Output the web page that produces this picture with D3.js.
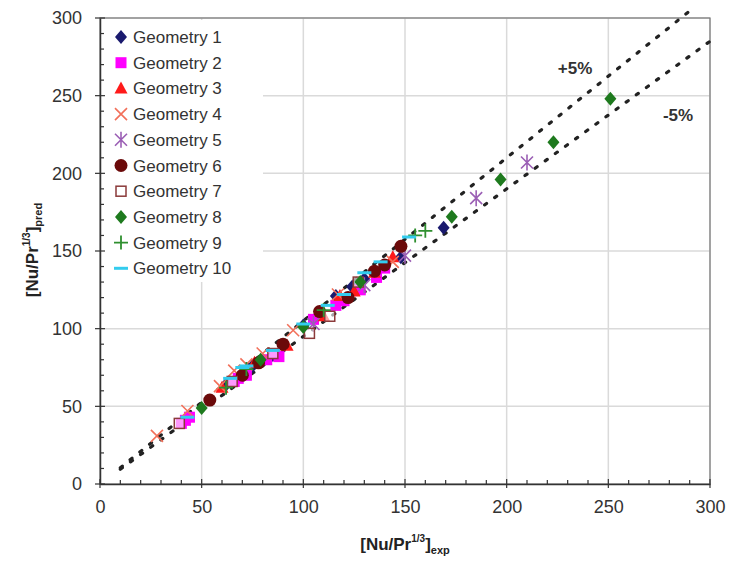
<!DOCTYPE html>
<html>
<head>
<meta charset="utf-8">
<script src="https://cdn.jsdelivr.net/npm/d3@7"></script>
<style>
  body { margin: 0; background: #fff; }
  svg { font-family: "Liberation Sans", Arial, sans-serif; }
</style>
</head>
<body>
<svg id="chart" width="734" height="566"></svg>
<script>
// data: [exp, pred]
const geometryNames = ["Geometry 1", "Geometry 2", "Geometry 3", "Geometry 4", "Geometry 5",
  "Geometry 6", "Geometry 7", "Geometry 8", "Geometry 9", "Geometry 10"];

const geo1 = [[62, 64], [75, 76], [85, 83], [100, 102], [116, 121], [124, 127], [130, 132], [148, 146], [169, 165]];
const geo2 = [[40, 39], [42, 41], [44, 43], [66, 66], [68, 68], [72, 70], [82, 80], [86, 84], [88, 82], [105, 106], [116, 115], [120, 118], [128, 125], [136, 133], [140, 139]];
const geo3 = [[60, 62], [76, 78], [92, 89], [110, 108], [118, 121], [125, 124], [135, 136], [144, 146]];
const geo4 = [[28, 31], [43, 47], [59, 63], [66, 73], [72, 77], [80, 84], [95, 99], [117, 122], [144, 143]];
const geo5 = [[105, 103], [130, 128], [150, 147], [185, 184], [210, 207]];
const geo6 = [[54, 54], [70, 70], [78, 78], [90, 90], [108, 111], [122, 120], [135, 137], [140, 141], [148, 153]];
const geo7 = [[39, 39], [65, 66], [85, 84], [103, 97], [113, 108], [127, 130]];
const geo8 = [[50, 49], [79, 80], [100, 101], [128, 130], [173, 172], [197, 196], [223, 220], [251, 248]];
const geo9 = [[62, 62], [72, 74], [110, 112], [155, 160], [160, 163]];
const geo10 = [[43, 43], [64, 68], [70, 75], [72, 76], [85, 86], [100, 103], [112, 115], [120, 122], [130, 136], [138, 143], [152, 159]];

const series = [geo1, geo2, geo3, geo4, geo5, geo6, geo7, geo8, geo9, geo10];
const colors = ["#1a1a6e", "#ff00ff", "#ff1a1a", "#f2705a", "#9b5fb5",
  "#6b0a0a", "#8b3a3a", "#1e7a1e", "#2f8f2f", "#33ccee"];

const xTicks = [0, 50, 100, 150, 200, 250, 300];
const yTicks = [0, 50, 100, 150, 200, 250, 300];

const svg = d3.select("#chart");
const pLeft = 100, pRight = 710, pTop = 18, pBottom = 484;

const x = d3.scaleLinear().domain([0, 300]).range([pLeft, pRight]);
const y = d3.scaleLinear().domain([0, 300]).range([pBottom, pTop]);

// gridlines
svg.append("g")
  .selectAll("line")
  .data(xTicks.slice(1))
  .join("line")
    .attr("x1", d => x(d)).attr("x2", d => x(d))
    .attr("y1", pTop).attr("y2", pBottom)
    .attr("stroke", "#dadada").attr("stroke-width", 1.5);
svg.append("g")
  .selectAll("line")
  .data(yTicks.slice(1))
  .join("line")
    .attr("x1", pLeft).attr("x2", pRight)
    .attr("y1", d => y(d)).attr("y2", d => y(d))
    .attr("stroke", "#dadada").attr("stroke-width", 1.5);

// legend background covers the grid
svg.append("rect")
  .attr("x", pLeft + 1).attr("y", pTop + 2)
  .attr("width", 162).attr("height", 262)
  .attr("fill", "#fff");

// frame
svg.append("rect")
  .attr("x", pLeft).attr("y", pTop)
  .attr("width", pRight - pLeft).attr("height", pBottom - pTop)
  .attr("fill", "none").attr("stroke", "#777").attr("stroke-width", 1.2);

// axes
const xAxis = svg.append("g").attr("transform", `translate(0,${pBottom})`);
xAxis.call(d3.axisBottom(x).tickValues(xTicks).tickSize(0).tickPadding(16))
  .call(g => g.select(".domain").attr("stroke", "#333").attr("stroke-width", 1.5))
  .call(g => g.selectAll("text").attr("font-size", 18).attr("fill", "#333"));
xAxis.append("g").selectAll("line")
  .data(d3.range(0, 301, 10))
  .join("line")
    .attr("x1", d => x(d)).attr("x2", d => x(d))
    .attr("y1", d => d % 50 === 0 ? 4 : 0)
    .attr("y2", d => d % 50 === 0 ? -5 : -4)
    .attr("stroke", "#333").attr("stroke-width", 1.2);

const yAxis = svg.append("g").attr("transform", `translate(${pLeft},0)`);
yAxis.call(d3.axisLeft(y).tickValues(yTicks).tickSize(0).tickPadding(18))
  .call(g => g.select(".domain").attr("stroke", "#333").attr("stroke-width", 1.5))
  .call(g => g.selectAll("text").attr("font-size", 18).attr("fill", "#333"));
yAxis.append("g").selectAll("line")
  .data(d3.range(0, 301, 10))
  .join("line")
    .attr("y1", d => y(d)).attr("y2", d => y(d))
    .attr("x1", d => d % 50 === 0 ? -5 : 0)
    .attr("x2", d => d % 50 === 0 ? 5 : 4)
    .attr("stroke", "#333").attr("stroke-width", 1.2);

// axis titles
const xt = svg.append("text")
  .attr("x", 405).attr("y", 550)
  .attr("text-anchor", "middle")
  .attr("font-size", 17).attr("font-weight", "bold").attr("fill", "#222");
xt.append("tspan").text("[Nu/Pr");
xt.append("tspan").attr("font-size", 10).attr("dy", -8).text("1/3");
xt.append("tspan").attr("dy", 8).text("]");
xt.append("tspan").attr("font-size", 11).attr("dy", 4).text("exp");

const yt = svg.append("text")
  .attr("transform", "translate(38,250) rotate(-90)")
  .attr("text-anchor", "middle")
  .attr("font-size", 17).attr("font-weight", "bold").attr("fill", "#222");
yt.append("tspan").text("[Nu/Pr");
yt.append("tspan").attr("font-size", 10).attr("dy", -8).text("1/3");
yt.append("tspan").attr("dy", 8).text("]");
yt.append("tspan").attr("font-size", 11).attr("dy", 4).text("pred");

// +/-5% lines
const bands = [{k: 1.05, x0: 10, x1: 290}, {k: 0.95, x0: 10, x1: 300}];
const line = d3.line().x(d => x(d[0])).y(d => y(d[1]));
svg.append("g").selectAll("path")
  .data(bands)
  .join("path")
    .attr("d", b => line([[b.x0, b.x0 * b.k], [b.x1, b.x1 * b.k]]))
    .attr("fill", "none")
    .attr("stroke", "#222").attr("stroke-width", 3.2)
    .attr("stroke-linecap", "round")
    .attr("stroke-dasharray", "2.5,10");

svg.append("text").attr("x", 575).attr("y", 74)
  .attr("text-anchor", "middle").attr("font-size", 17).attr("font-weight", "bold")
  .attr("fill", "#333").text("+5%");
svg.append("text").attr("x", 678).attr("y", 121)
  .attr("text-anchor", "middle").attr("font-size", 17).attr("font-weight", "bold")
  .attr("fill", "#333").text("-5%");

// marker drawing
function drawMarker(g, i, color) {
  if (i === 0 || i === 7) {
    g.append("path").attr("d", "M0,-7L6,0L0,7L-6,0Z").attr("fill", color);
  } else if (i === 1) {
    g.append("rect").attr("x", -5.5).attr("y", -5.5).attr("width", 11).attr("height", 11).attr("fill", color);
  } else if (i === 2) {
    g.append("path").attr("d", "M0,-7L6.5,5L-6.5,5Z").attr("fill", color);
  } else if (i === 3) {
    g.append("path").attr("d", "M-6,-6L6,6M-6,6L6,-6").attr("stroke", color).attr("stroke-width", 1.6).attr("fill", "none");
  } else if (i === 4) {
    g.append("path").attr("d", "M-6,-6L6,6M-6,6L6,-6M0,-8L0,8").attr("stroke", color).attr("stroke-width", 1.6).attr("fill", "none");
  } else if (i === 5) {
    g.append("circle").attr("r", 6.5).attr("fill", color);
  } else if (i === 6) {
    g.append("rect").attr("x", -5).attr("y", -5).attr("width", 10).attr("height", 10)
      .attr("fill", "#fff").attr("fill-opacity", 0.6).attr("stroke", color).attr("stroke-width", 1.5);
  } else if (i === 8) {
    g.append("path").attr("d", "M-7,0L7,0M0,-7L0,7").attr("stroke", color).attr("stroke-width", 1.8).attr("fill", "none");
  } else {
    g.append("path").attr("d", "M-7,0L7,0").attr("stroke", color).attr("stroke-width", 3).attr("fill", "none");
  }
}

// points
series.forEach((pts, i) => {
  svg.append("g").selectAll("g")
    .data(pts)
    .join("g")
      .attr("transform", d => `translate(${x(d[0])},${y(d[1])})`)
      .each(function() { drawMarker(d3.select(this), i, colors[i]); });
});

// legend
const legend = svg.append("g");
geometryNames.forEach((name, i) => {
  const ly = 37 + i * 25.7;
  const g = legend.append("g").attr("transform", `translate(121,${ly})`);
  drawMarker(g, i, colors[i]);
  legend.append("text")
    .attr("x", 133).attr("y", ly + 6)
    .attr("font-size", 17).attr("fill", "#333")
    .text(name);
});
</script>
</body>
</html>
